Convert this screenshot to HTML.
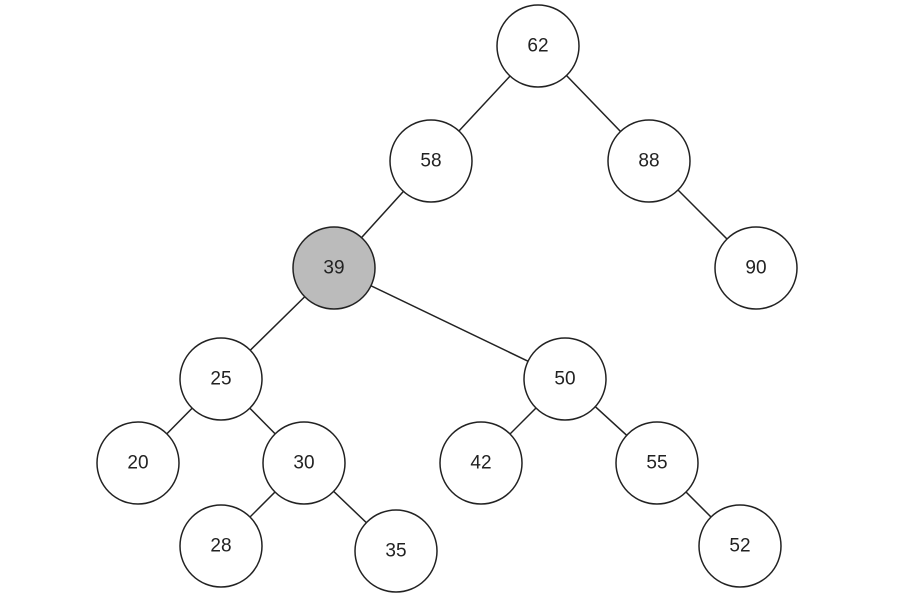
<!DOCTYPE html>
<html><head><style>html,body{margin:0;padding:0;background:#fff}</style></head><body>
<svg width="898" height="600" xmlns="http://www.w3.org/2000/svg">
<g stroke="#222" stroke-width="1.5">
<line x1="538" y1="46" x2="431" y2="161"/>
<line x1="538" y1="46" x2="649" y2="161"/>
<line x1="431" y1="161" x2="334" y2="268"/>
<line x1="649" y1="161" x2="756" y2="268"/>
<line x1="334" y1="268" x2="221" y2="379"/>
<line x1="334" y1="268" x2="565" y2="379"/>
<line x1="221" y1="379" x2="138" y2="463"/>
<line x1="221" y1="379" x2="304" y2="463"/>
<line x1="304" y1="463" x2="221" y2="546"/>
<line x1="304" y1="463" x2="396" y2="551"/>
<line x1="565" y1="379" x2="481" y2="463"/>
<line x1="565" y1="379" x2="657" y2="463"/>
<line x1="657" y1="463" x2="740" y2="546"/>
</g>
<g stroke="#222" stroke-width="1.5" fill="#fff">
<circle cx="538" cy="46" r="41"/>
<circle cx="431" cy="161" r="41"/>
<circle cx="649" cy="161" r="41"/>
<circle cx="334" cy="268" r="41" fill="#bbb"/>
<circle cx="756" cy="268" r="41"/>
<circle cx="221" cy="379" r="41"/>
<circle cx="565" cy="379" r="41"/>
<circle cx="138" cy="463" r="41"/>
<circle cx="304" cy="463" r="41"/>
<circle cx="481" cy="463" r="41"/>
<circle cx="657" cy="463" r="41"/>
<circle cx="221" cy="546" r="41"/>
<circle cx="396" cy="551" r="41"/>
<circle cx="740" cy="546" r="41"/>
</g>
<g font-family="Liberation Sans, sans-serif" font-size="19" fill="#222" text-anchor="middle" dominant-baseline="central">
<text x="538" y="46">62</text>
<text x="431" y="161">58</text>
<text x="649" y="161">88</text>
<text x="334" y="268">39</text>
<text x="756" y="268">90</text>
<text x="221" y="379">25</text>
<text x="565" y="379">50</text>
<text x="138" y="463">20</text>
<text x="304" y="463">30</text>
<text x="481" y="463">42</text>
<text x="657" y="463">55</text>
<text x="221" y="546">28</text>
<text x="396" y="551">35</text>
<text x="740" y="546">52</text>
</g>
</svg>
</body></html>
